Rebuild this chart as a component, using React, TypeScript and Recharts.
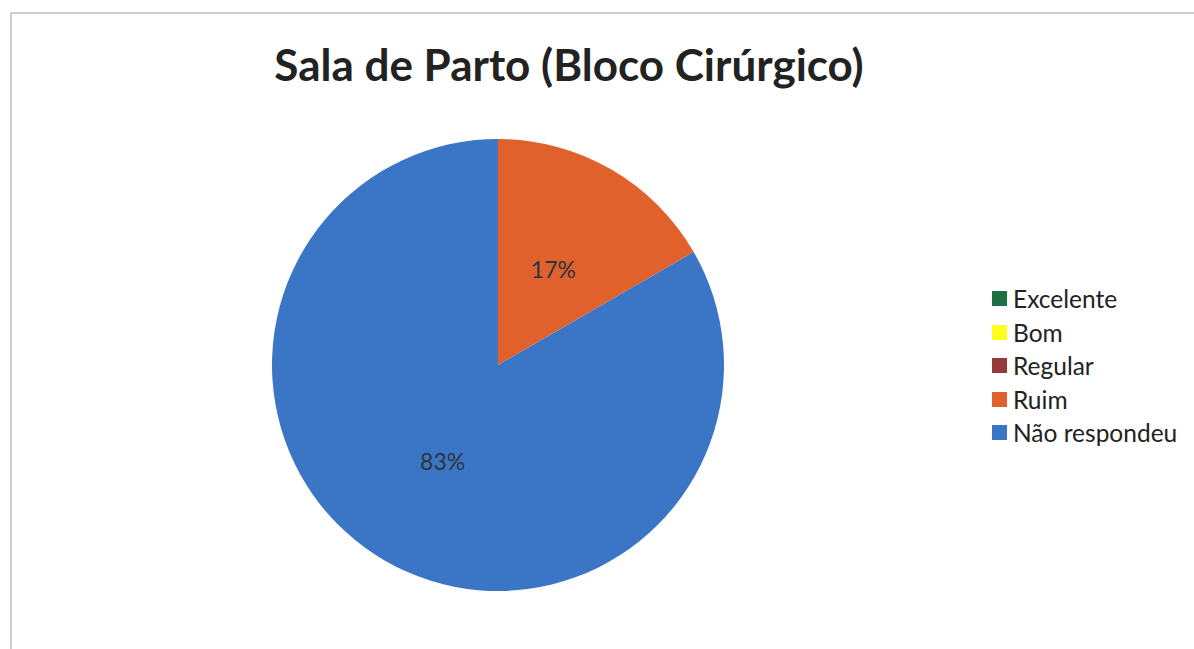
import React from 'react';
import { PieChart, Pie, Cell, Legend } from 'recharts';

const categories = ['Excelente', 'Bom', 'Regular', 'Ruim', 'Não respondeu'];
const values = [0, 0, 0, 1, 5];
const percentLabels = ['0%', '0%', '0%', '17%', '83%'];
const colors = ['#1f6f45', '#ffff1e', '#943a3c', '#e0612b', '#3b76c6'];

const data = categories.map((name, i) => ({ name, value: values[i], pct: percentLabels[i] }));

const RADIAN = Math.PI / 180;

const renderLabel = (props: any) => {
    const { cx, cy, midAngle, outerRadius, index } = props;
    if (!values[index]) return null;
    const r = outerRadius * 0.49;
    const x = cx + r * Math.cos(-midAngle * RADIAN);
    const y = cy + r * Math.sin(-midAngle * RADIAN);
    return (
        <text x={x} y={y} fill="#2e3440" fontSize={23} fontFamily="Lato, sans-serif" textAnchor="middle" dominantBaseline="central">
            {percentLabels[index]}
        </text>
    );
};

const LegendBox = () => (
    <div style={{ fontFamily: 'Lato, sans-serif', fontSize: 24.5, color: '#222' }}>
        {data.map((d, i) => (
            <div key={d.name} style={{ display: 'flex', alignItems: 'center', height: 33.5 }}>
                <span style={{ width: 15, height: 15, background: colors[i], display: 'inline-block', marginRight: 6 }} />
                <span>{d.name}</span>
            </div>
        ))}
    </div>
);

export default function App() {
    return (
        <div style={{ position: 'absolute', left: 0, top: 0, width: 1194, height: 649, background: '#fff', overflow: 'hidden' }}>
            <div style={{ position: 'absolute', left: 10, top: 12, width: 1200, height: 660, borderTop: '2px solid #cfcfcf', borderLeft: '2px solid #cfcfcf' }} />
            <div style={{ position: 'absolute', left: 0, top: 38, width: 1138, textAlign: 'center', fontFamily: 'Lato, sans-serif', fontWeight: 700, fontSize: 44, color: '#222' }}>
                Sala de Parto (Bloco Cirúrgico)
            </div>
            <div style={{ position: 'absolute', left: 0, top: 0 }}>
                <PieChart width={1194} height={649} margin={{ top: 0, right: 0, bottom: 0, left: 0 }}>
                    <Pie
                        data={data}
                        dataKey="value"
                        nameKey="name"
                        cx={498}
                        cy={365}
                        outerRadius={226}
                        startAngle={90}
                        endAngle={-270}
                        stroke="none"
                        label={renderLabel}
                        labelLine={false}
                        isAnimationActive={false}
                    >
                        {data.map((d, i) => (
                            <Cell key={d.name} fill={colors[i]} />
                        ))}
                    </Pie>
                    <Legend
                        layout="vertical"
                        verticalAlign="top"
                        align="right"
                        content={<LegendBox />}
                        wrapperStyle={{ left: 992, top: 282, width: 200 }}
                    />
                </PieChart>
            </div>
        </div>
    );
}
